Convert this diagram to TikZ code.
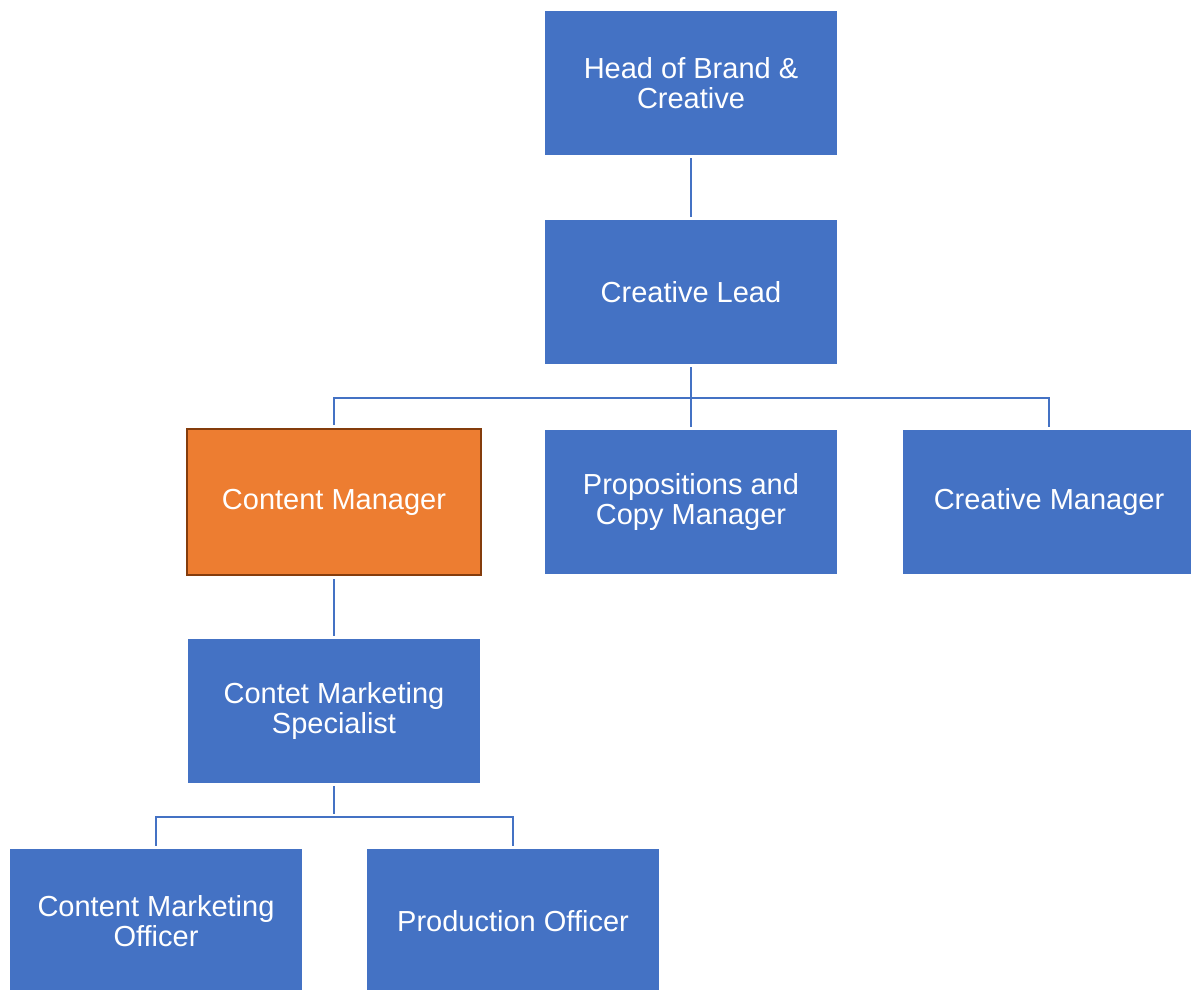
\documentclass[tikz,border=0pt]{standalone}
\usepackage{fontspec}
\setmainfont{Liberation Sans}
\definecolor{roleblue}{HTML}{4472C4}
\definecolor{roleorange}{HTML}{ED7D31}
\definecolor{roleedge}{HTML}{843C0C}
\definecolor{linkblue}{HTML}{4472C4}
\begin{document}
\begin{tikzpicture}[x=1pt,y=-1pt,
		role/.style={rectangle,fill=roleblue,text=white,minimum width=292pt,minimum height=144pt,align=center,inner sep=0pt,font=\fontsize{29}{30}\selectfont},
		focus/.style={role,fill=roleorange,draw=roleedge,line width=2pt,minimum width=294pt,minimum height=146pt},
		link/.style={draw=linkblue,line width=2.5pt,shorten <=3pt,shorten >=3pt}]
			\useasboundingbox (0,0) rectangle (1191,989);
			\node[role] (head) at (691,83) {Head of Brand \&\\Creative};
			\node[role] (lead) at (691,292) {Creative Lead};
			\node[focus] (cm) at (334,502) {Content Manager};
			\node[role] (prop) at (691,502) {Propositions and\\Copy Manager};
			\node[role] (crm) at (1049,502) {Creative Manager};
			\node[role] (spec) at (334,711) {Contet Marketing\\Specialist};
			\node[role] (cmo) at (156,921) {Content Marketing\\Officer};
			\node[role] (po) at (513,921) {Production Officer};
			\coordinate (split) at (691,398);
			\coordinate (split2) at (334,817);
			\draw[link] (head.south) -- (lead.north);
			\draw[link] (lead.south) -- (prop.north);
			\draw[link] (cm.north) -- (cm.north |- split) -| (crm.north);
			\draw[link] (cm.south) -- (spec.north);
			\draw[link] (spec.south) -- (split2);
			\draw[link] (cmo.north) -- (cmo.north |- split2) -| (po.north);
		\end{tikzpicture}
\end{document}
